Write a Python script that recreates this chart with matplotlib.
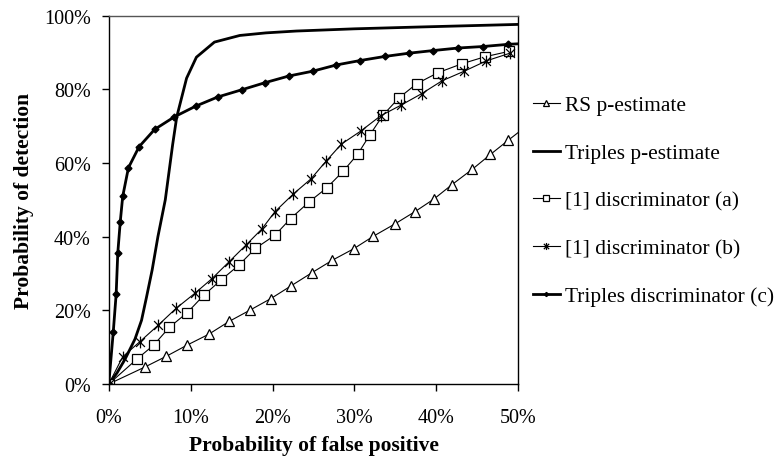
import matplotlib
matplotlib.use("Agg")
import matplotlib.pyplot as plt
from matplotlib.path import Path
from matplotlib.ticker import FuncFormatter, MultipleLocator

# probability of false positive (%) / probability of detection (%)
rs_x = [0, 4.4, 7.0, 9.6, 12.2, 14.7, 17.2, 19.8, 22.3, 24.8, 27.3, 29.9,
        32.3, 34.9, 37.4, 39.7, 41.9, 44.4, 46.6, 48.8, 51.0]
rs_y = [0, 4.6, 7.5, 10.6, 13.5, 17.0, 20.0, 23.2, 26.7, 30.2, 33.6, 36.7,
        40.1, 43.4, 46.8, 50.2, 54.1, 58.3, 62.3, 66.2, 70.0]

tp_x = [0, 1.0, 2.0, 3.2, 4.0, 4.6, 5.3, 6.0, 6.9, 7.8, 8.3, 9.5, 10.7,
        12.9, 16.0, 19.2, 22.9, 30.0, 38.0, 50.0]
tp_y = [0, 3.0, 6.8, 12.2, 17.3, 23.5, 31.0, 40.0, 50.0, 65.0, 72.5, 83.0,
        88.7, 92.8, 94.6, 95.3, 95.8, 96.4, 96.9, 97.6]

da_x = [0, 3.4, 5.5, 7.4, 9.6, 11.6, 13.7, 15.9, 17.9, 20.3, 22.2, 24.5,
        26.6, 28.6, 30.4, 31.9, 33.5, 35.4, 37.6, 40.2, 43.1, 45.9, 48.9]
da_y = [0, 6.7, 10.6, 15.4, 19.4, 24.1, 28.2, 32.3, 36.8, 40.4, 44.9, 49.5,
        53.2, 57.7, 62.4, 67.7, 73.0, 77.6, 81.5, 84.5, 86.9, 88.8, 90.3]

db_x = [0, 1.7, 3.8, 6.0, 8.2, 10.5, 12.6, 14.7, 16.7, 18.7, 20.3, 22.5,
        24.7, 26.5, 28.4, 30.8, 33.2, 35.7, 38.2, 40.7, 43.4, 46.1, 49.0]
db_y = [0, 7.4, 11.5, 15.9, 20.5, 24.6, 28.6, 33.2, 37.6, 42.1, 46.8, 51.5,
        55.7, 60.4, 65.1, 68.7, 72.8, 75.7, 78.8, 82.3, 84.9, 87.7, 89.8]

tc_x = [0, 0.55, 0.9, 1.1, 1.4, 1.7, 2.4, 3.7, 5.6, 8.0, 10.6, 13.3, 16.3,
        19.1, 22.0, 24.9, 27.8, 30.7, 33.7, 36.7, 39.6, 42.7, 45.7, 48.8, 51.5]
tc_y = [0, 14.2, 24.4, 35.6, 44.0, 50.9, 58.7, 64.4, 69.1, 72.5, 75.4, 77.9,
        79.9, 81.8, 83.6, 84.9, 86.6, 87.8, 88.9, 89.8, 90.5, 91.2, 91.6, 92.2, 92.5]

# excel-style asterisk: X with a vertical stroke
star = Path([(0, -1), (0, 1), (-0.75, -0.75), (0.75, 0.75), (-0.75, 0.75), (0.75, -0.75)],
            [Path.MOVETO, Path.LINETO, Path.MOVETO, Path.LINETO, Path.MOVETO, Path.LINETO])

plt.rcParams['font.family'] = ['Liberation Serif', 'DejaVu Serif']

fig = plt.figure(figsize=(7.77, 4.6), dpi=100)
ax = fig.add_axes([0.140, 0.163, 0.527, 0.801])

ax.plot(rs_x, rs_y, color='black', lw=0.8, marker='^', ms=7.5, mfc='white',
        mec='black', mew=0.9, label='RS p-estimate')
ax.plot(tp_x, tp_y, color='black', lw=2.0, label='Triples p-estimate')
ax.plot(da_x, da_y, color='black', lw=0.8, marker='s', ms=7, mfc='white',
        mec='black', mew=0.9, label='[1] discriminator (a)')
ax.plot(db_x, db_y, color='black', lw=0.8, marker=star, ms=8.5, mec='black',
        mew=0.9, label='[1] discriminator (b)')
ax.plot(tc_x, tc_y, color='black', lw=2.0, marker='D', ms=3.5,
        label='Triples discriminator (c)')

ax.set_xlim(0, 50)
ax.set_ylim(0, 100)
ax.xaxis.set_major_locator(MultipleLocator(10))
ax.yaxis.set_major_locator(MultipleLocator(20))
pct = FuncFormatter(lambda v, p: '%d%%' % round(v))
ax.xaxis.set_major_formatter(pct)
ax.yaxis.set_major_formatter(pct)
ax.tick_params(direction='out', length=5, width=1, labelsize=14.5)
ax.tick_params(axis='x', pad=12)
ax.tick_params(axis='y', pad=8)
for s in ax.spines.values():
    s.set_linewidth(1)
ax.spines['top'].set_color('#555555')

ax.set_xlabel('Probability of false positive', fontsize=15.5, fontweight='bold', labelpad=6)
ax.set_ylabel('Probability of detection', fontsize=15.5, fontweight='bold', labelpad=7)

fig.legend(loc='center left', bbox_to_anchor=(0.661, 0.561), frameon=False,
           fontsize=15.4, handlelength=1.26, handletextpad=0.23,
           labelspacing=1.3, markerscale=0.6)

fig.savefig('out.png', dpi=100)
